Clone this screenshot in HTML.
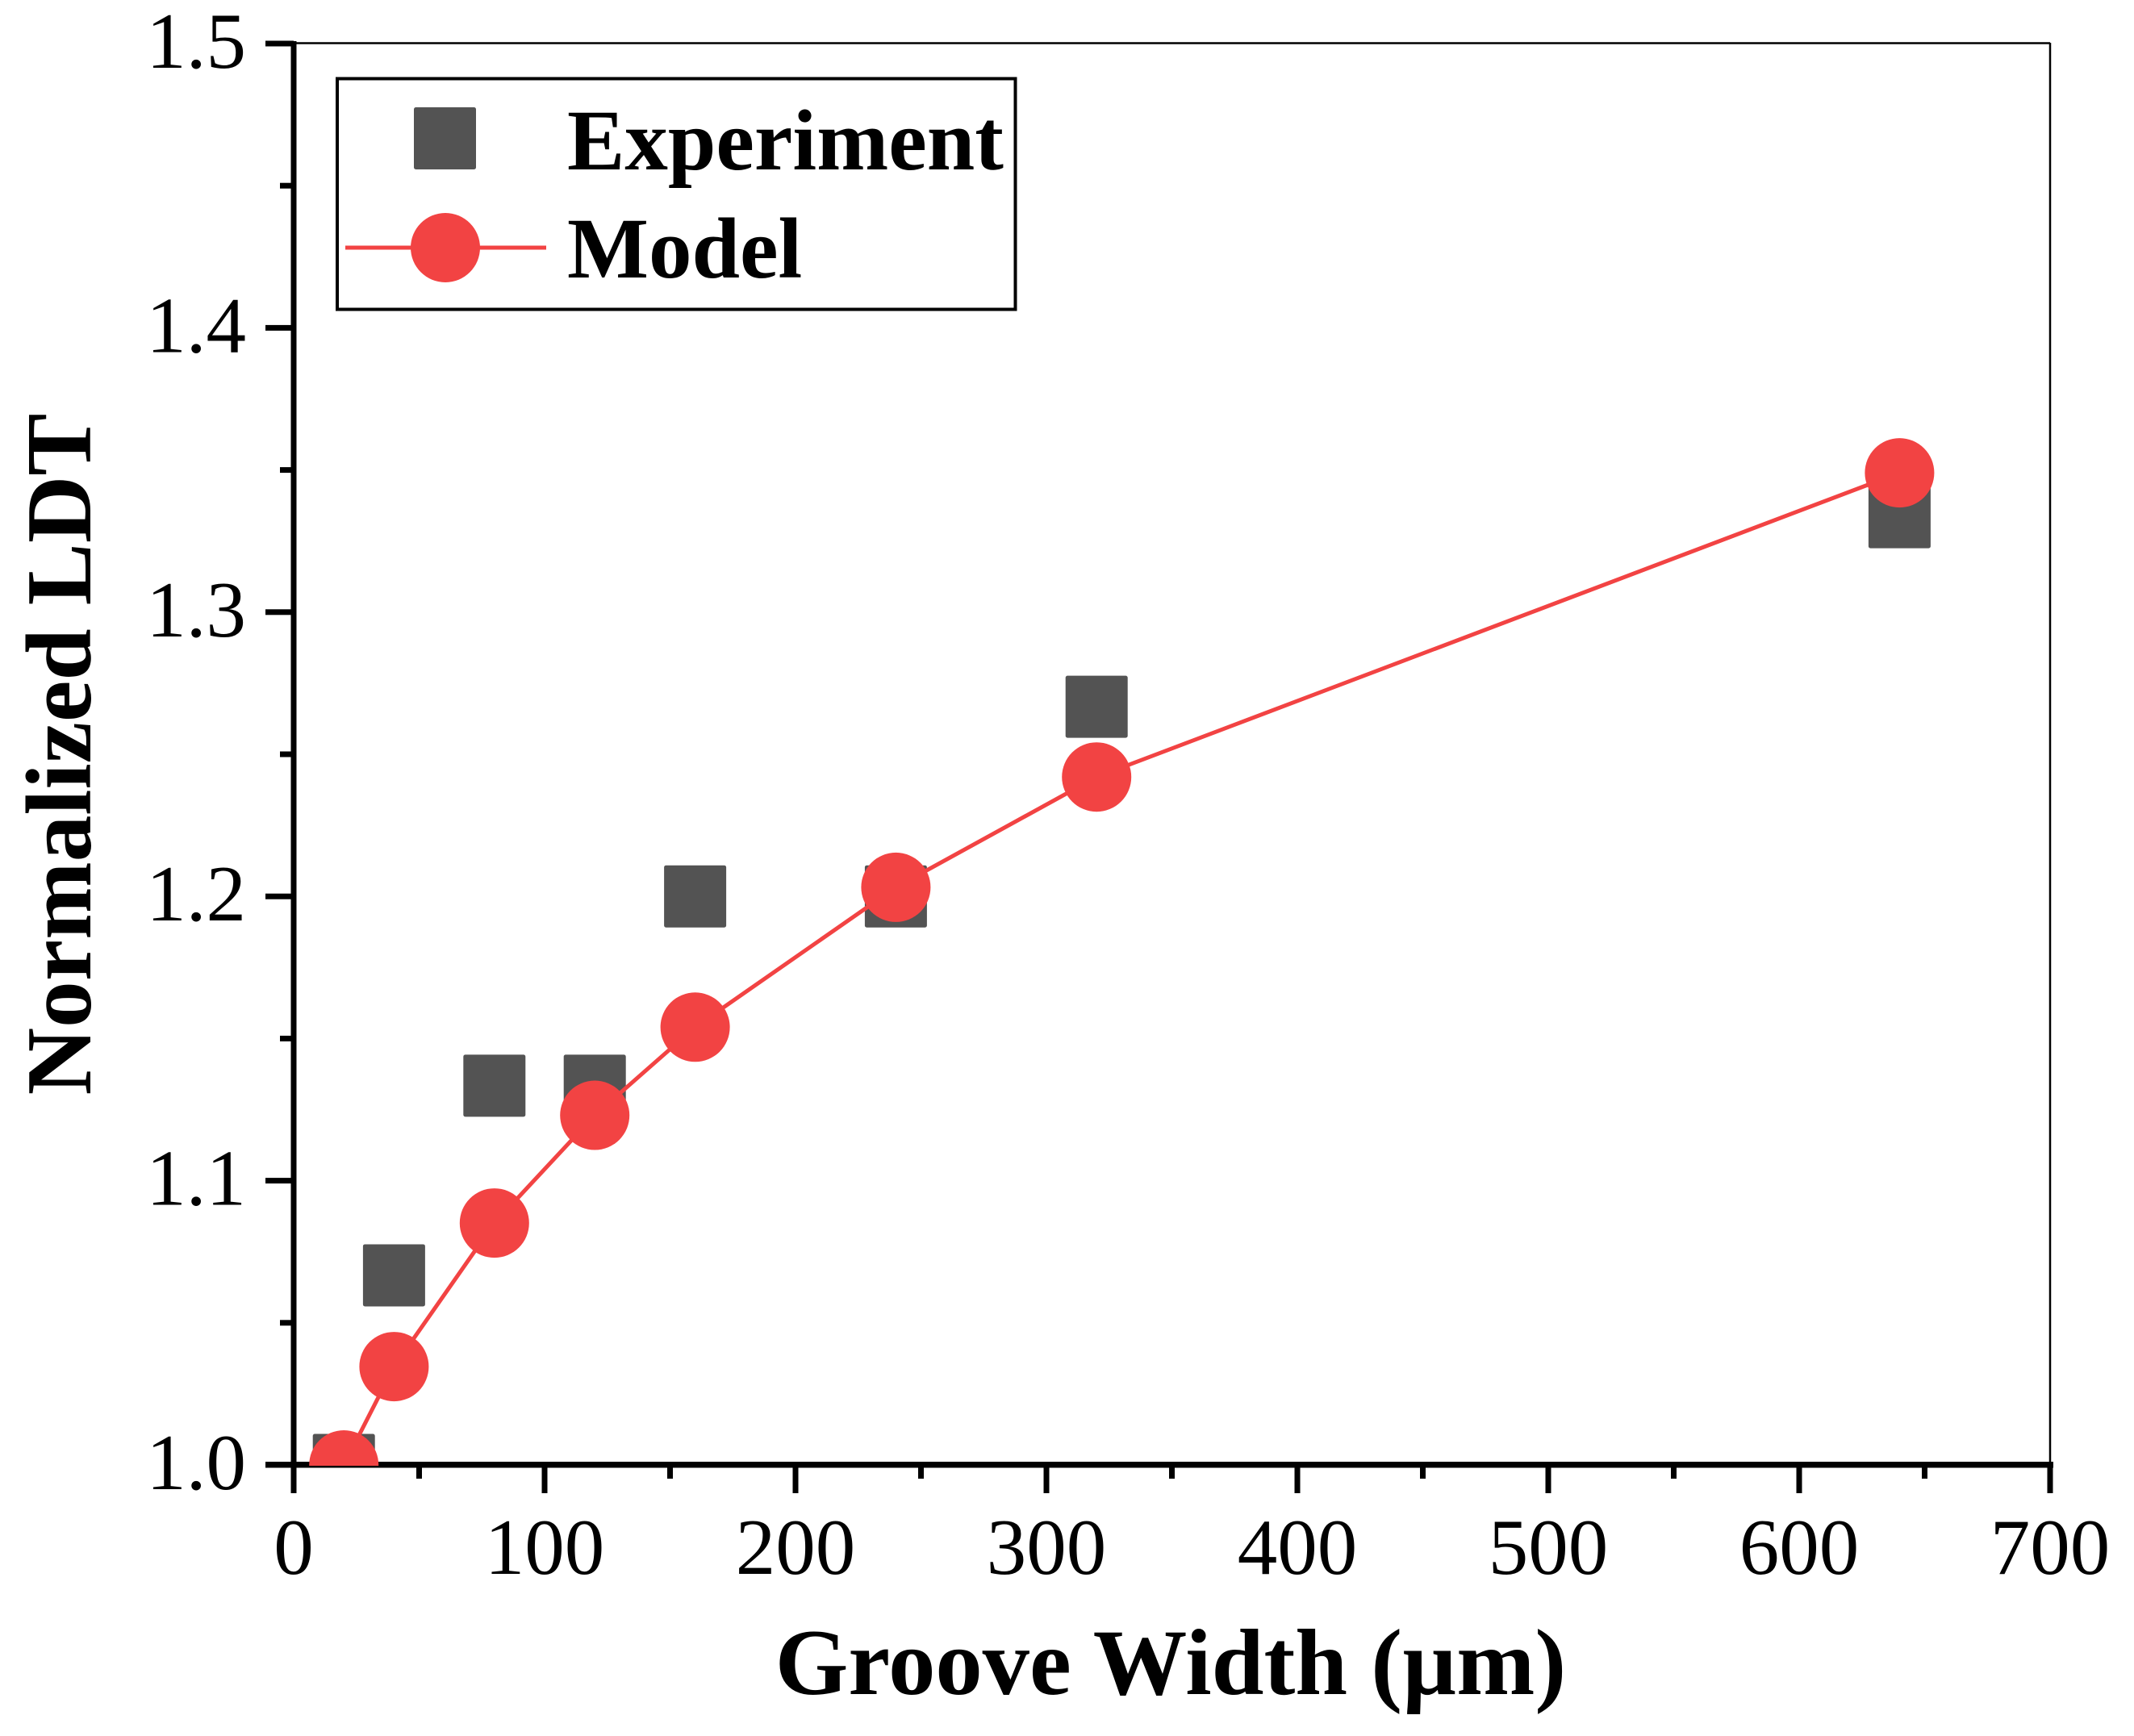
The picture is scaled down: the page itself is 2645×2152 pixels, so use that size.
<!DOCTYPE html>
<html lang="en">
<head>
<meta charset="utf-8">
<title>Normalized LDT vs Groove Width</title>
<style>
html,body{margin:0;padding:0;background:#fff;width:2645px;height:2152px;overflow:hidden}
svg{display:block}
text{font-family:"Liberation Serif",serif;fill:#000}
</style>
</head>
<body>
<svg id="chart" xmlns="http://www.w3.org/2000/svg" width="2645" height="2152" viewBox="0 0 2645 2152">
  <defs>
    <clipPath id="plot-clip"><rect x="364" y="54" width="2177" height="1763"/></clipPath>
  </defs>
  <rect x="0" y="0" width="2645" height="2152" fill="#fff"/>
  <g id="frame"></g>
  <g id="axes"></g>
  <g id="series-experiment" clip-path="url(#plot-clip)"></g>
  <g id="series-model" clip-path="url(#plot-clip)"></g>
  <text x="1451" y="2100" text-anchor="middle" font-size="116.6" font-weight="700">Groove Width (µm)</text>
  <text transform="translate(112,935) rotate(-90)" text-anchor="middle" font-size="115.7" font-weight="700">Normalized LDT</text>
  <g>
    <rect x="418" y="97.500" width="840.500" height="286" fill="#fff" stroke="#000" stroke-width="4"/>
    <rect x="513" y="133" width="77" height="77" rx="2.500" fill="#535353"/>
    <line x1="428" y1="307" x2="677" y2="307" stroke="#f24343" stroke-width="5"/>
    <circle cx="552" cy="307" r="43" fill="#f24343"/>
    <text x="703" y="210" font-size="107" font-weight="700">Experiment</text>
    <text x="703" y="344" font-size="107" font-weight="700">Model</text>
  </g>
</svg>
<script>
const xTickValues = [0, 100, 200, 300, 400, 500, 600, 700];
const xMinorValues = [50, 150, 250, 350, 450, 550, 650];
const yTickValues = [1.0, 1.1, 1.2, 1.3, 1.4, 1.5];
const yMinorValues = [1.05, 1.15, 1.25, 1.35, 1.45];
const grooveWidths = [20, 40, 80, 120, 160, 240, 320, 640];
const experimentValues = [1.0, 1.0667, 1.1334, 1.1334, 1.2, 1.2, 1.2667, 1.3334];
const modelValues = [1.0, 1.0346, 1.0851, 1.123, 1.154, 1.2032, 1.242, 1.349];

const NS = 'http://www.w3.org/2000/svg';
function xScale(v) { return 364 + (v - 0) * (2541 - 364) / 700; }
function yScale(v) { return 1816 - (v - 1.0) * (1816 - 54) / 0.5; }

function make(tag, attrs, parent) {
  const el = document.createElementNS(NS, tag);
  for (const k in attrs) el.setAttribute(k, attrs[k]);
  parent.appendChild(el);
  return el;
}

const frame = document.getElementById('frame');
const axes = document.getElementById('axes');
const expG = document.getElementById('series-experiment');
const modelG = document.getElementById('series-model');

const topBorder = make('line', {x1: 364, y1: 53.5, x2: 2541, y2: 53.5, stroke: '#000', 'stroke-width': 2.5}, frame);


const rightBorder = make('line', {x1: 2541, y1: 53, x2: 2541, y2: 1816, stroke: '#000', 'stroke-width': 2.5}, frame);



const xAxisLine = make('rect', {x: 329, y: 1812, width: 2216, height: 7.5, fill: '#000'}, axes);


const yAxisLine = make('rect', {x: 360.5, y: 51, width: 7, height: 1800, fill: '#000'}, axes);



xTickValues.forEach(function (v) {
  const t = make('rect', {x: xScale(v) - 3.5, y: 1816, width: 7, height: 35, fill: '#000'}, axes);
  
  
  const l = make('text', {x: xScale(v), y: 1951, 'text-anchor': 'middle', 'font-size': 99}, axes);
  
  
  l.textContent = String(v);
});
xMinorValues.forEach(function (v) {
  const t = make('rect', {x: xScale(v) - 3.5, y: 1816, width: 7, height: 17, fill: '#000'}, axes);
  
  
});
yTickValues.forEach(function (v) {
  const t = make('rect', {x: 329, y: yScale(v) - 3.5, width: 35, height: 7, fill: '#000'}, axes);
  
  
  const l = make('text', {x: 305, y: yScale(v) + 30, 'text-anchor': 'end', 'font-size': 99}, axes);
  
  
  l.textContent = v.toFixed(1);
});
yMinorValues.forEach(function (v) {
  const t = make('rect', {x: 347, y: yScale(v) - 3.5, width: 17, height: 7, fill: '#000'}, axes);
  
  
});

grooveWidths.forEach(function (w, i) {
  const s = make('rect', {x: xScale(w) - 38.5, y: yScale(experimentValues[i]) - 38.5, width: 77, height: 77, rx: 2.5, fill: '#535353'}, expG);
  
  
});

const modelLine = make('polyline', {
  points: grooveWidths.map(function (w, i) { return xScale(w) + ',' + yScale(modelValues[i]); }).join(' '),
  fill: 'none', stroke: '#f24343', 'stroke-width': 5
}, modelG);



grooveWidths.forEach(function (w, i) {
  const c = make('circle', {cx: xScale(w), cy: yScale(modelValues[i]), r: 43, fill: '#f24343'}, modelG);
  
  
});
</script>
</body>
</html>
